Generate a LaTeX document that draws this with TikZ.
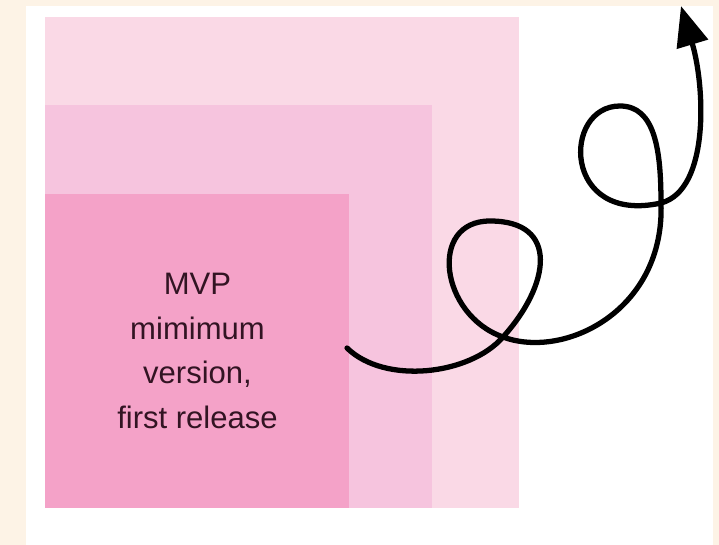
\documentclass[tikz,border=0pt]{standalone}
\usepackage{fontspec}
\setmainfont{Liberation Sans}
\usetikzlibrary{arrows.meta}

\definecolor{cream}{RGB}{253,243,230}
\definecolor{pinkouter}{RGB}{250,217,230}
\definecolor{pinkmiddle}{RGB}{246,196,222}
\definecolor{pinkinner}{RGB}{244,162,200}
\definecolor{plum}{RGB}{50,20,35}

\begin{document}
\begin{tikzpicture}[x=0.03cm,y=-0.03cm,
  layer/.style={draw=none},
  curl/.style={line width=4.5pt,line cap=round,line join=round,
    -{Triangle[length=1.2cm,width=0.95cm]}}]
\useasboundingbox (0,0) rectangle (719,545);
\path[fill=cream] (0,0) rectangle (719,545);
\path[fill=white] (26,6) rectangle (713,545);
% nested releases
\path[layer,fill=pinkouter] (45,17) rectangle (519,508);
\path[layer,fill=pinkmiddle] (45,105) rectangle (432,508);
\path[layer,fill=pinkinner] (45,194) rectangle (349,508);
\node[text=plum,align=center,font=\fontsize{26.5}{38}\selectfont] (mvp) at (197.5,351)
  {MVP\\mimimum\\version,\\first release};
% the curly way forward
\coordinate (tail) at (347,348);
\coordinate (cross1) at (503,337);
\coordinate (top1) at (490,221);
\coordinate (cross2) at (661,203);
\coordinate (top2) at (620,106);
\coordinate (head) at (681,6);
\draw[curl] (tail) .. controls (385,385) and (470,375) .. (cross1)
  .. controls (550,285) and (560,221) .. (top1)
  .. controls (428,221) and (440,315) .. (cross1)
  .. controls (565,360) and (665,310) .. (cross2)
  .. controls (661,150) and (655,106) .. (top2)
  .. controls (562,106) and (562,225) .. (cross2)
  .. controls (710,190) and (705,86) .. (head);
\end{tikzpicture}
\end{document}
